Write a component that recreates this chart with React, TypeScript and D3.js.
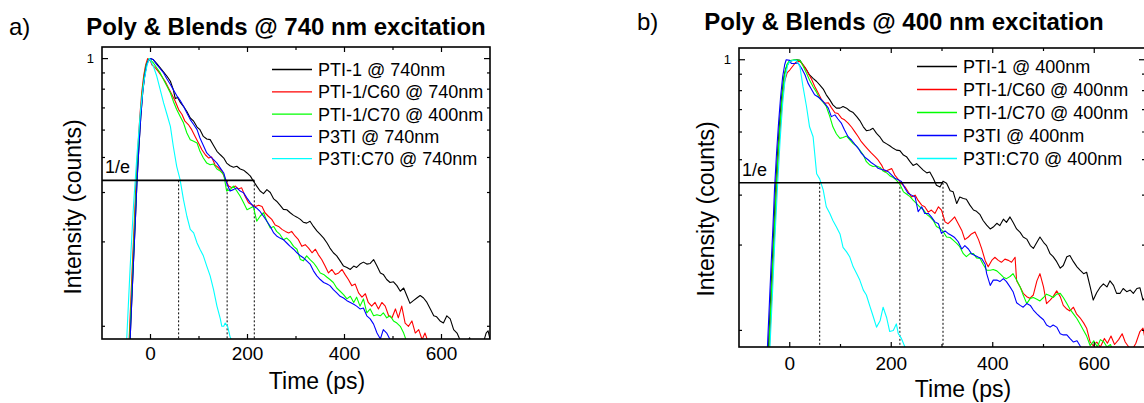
import React from "react";
import * as d3 from "d3";

// ---------- shared axis data ----------
const xDomain = [-100, 700];
const xTickValues = [0, 100, 200, 300, 400, 500, 600];
const xTickLabels = [0, 200, 400, 600];
const yTickValues = [0.111, 0.222, 0.333, 0.444, 0.556, 0.667, 0.778, 0.889, 1];
const yTickLabels = [1];
const invE = 0.368;
const colors = ["#000000", "#ff0000", "#00ff00", "#0000ff", "#00ffff"];

// ---------- panel a ----------
const titleA = "Poly & Blends @ 740 nm excitation";
const namesA = ["PTI-1 @ 740nm", "PTI-1/C60 @ 740nm", "PTI-1/C70 @ 400nm", "P3TI @ 740nm", "P3TI:C70 @ 740nm"];
const dropTimesA = [58, 158, 214];

const blackA = [[-46,0.075],[-42,0.1],[-38,0.145],[-35,0.19],[-31,0.27],[-28,0.36],[-24,0.48],[-20,0.62],[-16,0.76],[-12,0.87],[-8,0.95],[-4,0.99],[0,1],
[6,0.99],[13,0.96],[23,0.914],[34,0.865],[41,0.83],[47,0.775],[51,0.72],[56,0.726],[61,0.7],[68,0.676],[75,0.648],[82,0.614],[89,0.598],[96,0.57],[102,0.558],[109,0.528],[116,0.517],[123,0.514],[130,0.49],[137,0.467],[144,0.454],[151,0.442],[157,0.424],[164,0.415],[171,0.41],[178,0.413],[185,0.404],[192,0.4],[199,0.391],[206,0.381],[212,0.366],[219,0.351],[226,0.337],[233,0.33],[240,0.341],[247,0.333],[254,0.316],[260,0.31],[267,0.3],[274,0.29],[281,0.289],[288,0.282],[295,0.276],[302,0.272],[309,0.267],[315,0.261],[322,0.259],[329,0.263],[336,0.252],[343,0.243],[350,0.236],[357,0.229],[364,0.22],[370,0.211],[377,0.203],[384,0.198],[391,0.19],[398,0.182],[405,0.18],[412,0.177],[419,0.182],[425,0.18],[432,0.185],[439,0.188],[446,0.185],[453,0.186],[460,0.192],[467,0.182],[474,0.172],[480,0.17],[487,0.163],[494,0.159],[501,0.16],[508,0.155],[515,0.148],[522,0.152],[529,0.142],[535,0.134],[542,0.137],[549,0.14],[556,0.143],[563,0.14],[570,0.135],[577,0.128],[584,0.121],[590,0.12],[597,0.116],[604,0.114],[611,0.121],[618,0.118],[625,0.108],[632,0.105],[638,0.0995],[645,0.094],[652,0.097],[658,0.101],[662,0.096],[670,0.09],[680,0.092],[687,0.098],[692,0.105],[696,0.107],[700,0.1]];

const redA = [[-48,0.075],[-44,0.1],[-40,0.145],[-37,0.19],[-33,0.27],[-30,0.36],[-26,0.48],[-22,0.62],[-18,0.76],[-14,0.87],[-10,0.95],[-6,1],[0,0.98],
[3,0.95],[10,0.926],[16,0.9],[23,0.865],[30,0.83],[37,0.786],[44,0.744],[51,0.705],[58,0.658],[65,0.632],[71,0.598],[78,0.582],[85,0.558],[92,0.528],[99,0.5],[106,0.473],[113,0.454],[120,0.442],[126,0.446],[133,0.418],[140,0.408],[147,0.397],[154,0.372],[161,0.351],[168,0.346],[175,0.351],[181,0.343],[188,0.346],[195,0.323],[202,0.306],[209,0.301],[216,0.297],[223,0.3],[230,0.297],[236,0.282],[243,0.274],[250,0.267],[257,0.255],[264,0.252],[271,0.246],[278,0.242],[285,0.239],[291,0.242],[298,0.233],[305,0.226],[312,0.214],[319,0.217],[326,0.211],[333,0.203],[340,0.209],[346,0.2],[353,0.192],[360,0.182],[367,0.172],[374,0.177],[381,0.17],[388,0.172],[395,0.177],[401,0.17],[408,0.163],[415,0.155],[422,0.157],[429,0.146],[436,0.141],[443,0.145],[449,0.135],[456,0.131],[463,0.135],[470,0.128],[477,0.135],[484,0.131],[491,0.121],[498,0.119],[505,0.128],[511,0.119],[518,0.131],[525,0.114],[532,0.111],[539,0.116],[546,0.105],[553,0.108],[560,0.0995],[566,0.105],[573,0.097],[580,0.09],[590,0.095],[600,0.088]];

const greenA = [[-47,0.075],[-43,0.1],[-39,0.145],[-36,0.19],[-32,0.27],[-29,0.36],[-25,0.48],[-21,0.62],[-17,0.76],[-13,0.87],[-9,0.95],[-3,1],
[6,0.965],[13,0.926],[20,0.889],[27,0.841],[34,0.797],[41,0.754],[47,0.705],[54,0.658],[61,0.623],[68,0.59],[75,0.543],[82,0.514],[89,0.507],[96,0.5],[102,0.467],[109,0.442],[116,0.424],[123,0.418],[130,0.421],[137,0.404],[144,0.397],[151,0.386],[157,0.337],[164,0.341],[171,0.351],[178,0.337],[185,0.323],[192,0.306],[199,0.289],[206,0.293],[212,0.297],[219,0.263],[226,0.274],[233,0.282],[240,0.263],[247,0.249],[254,0.252],[260,0.242],[267,0.236],[274,0.226],[281,0.229],[288,0.223],[295,0.214],[302,0.209],[309,0.192],[315,0.19],[322,0.198],[329,0.192],[336,0.187],[343,0.18],[350,0.172],[357,0.17],[364,0.166],[370,0.163],[377,0.159],[384,0.152],[391,0.148],[398,0.144],[405,0.139],[412,0.142],[419,0.135],[425,0.141],[432,0.131],[439,0.139],[446,0.124],[453,0.128],[460,0.121],[467,0.122],[474,0.121],[480,0.124],[487,0.119],[494,0.121],[501,0.116],[508,0.114],[515,0.111],[522,0.105],[529,0.097],[540,0.09]];

const blueA = [[-46,0.075],[-42,0.1],[-38,0.145],[-35,0.19],[-31,0.27],[-28,0.36],[-24,0.48],[-20,0.62],[-16,0.76],[-12,0.87],[-8,0.95],[-4,0.99],[0,1],
[6,0.99],[13,0.952],[20,0.92],[27,0.889],[34,0.846],[41,0.808],[47,0.775],[54,0.738],[61,0.71],[68,0.676],[75,0.64],[82,0.606],[89,0.582],[96,0.558],[102,0.521],[109,0.49],[116,0.461],[123,0.448],[130,0.436],[137,0.424],[144,0.407],[151,0.391],[157,0.36],[164,0.337],[171,0.341],[178,0.346],[185,0.337],[192,0.332],[199,0.318],[206,0.306],[212,0.297],[219,0.293],[226,0.285],[233,0.274],[240,0.263],[247,0.252],[254,0.239],[260,0.233],[267,0.229],[274,0.226],[281,0.22],[288,0.214],[295,0.209],[302,0.203],[309,0.198],[315,0.195],[322,0.19],[329,0.185],[336,0.175],[343,0.168],[350,0.163],[357,0.159],[364,0.157],[370,0.155],[377,0.15],[384,0.146],[391,0.142],[398,0.14],[405,0.137],[412,0.135],[419,0.133],[425,0.131],[432,0.128],[439,0.129],[446,0.121],[453,0.118],[460,0.113],[467,0.105],[474,0.1],[480,0.108],[487,0.105],[494,0.0995],[505,0.092]];

const cyanA = [[-53,0.085],[-49,0.1],[-42,0.18],[-35,0.3],[-28,0.45],[-21,0.64],[-14,0.82],[-7,0.95],[-2,1],
[6,0.939],[13,0.865],[20,0.775],[27,0.695],[34,0.632],[41,0.573],[47,0.487],[54,0.413],[61,0.37],[68,0.314],[75,0.274],[82,0.246],[89,0.239],[96,0.22],[102,0.209],[109,0.198],[116,0.182],[123,0.168],[130,0.15],[137,0.131],[144,0.118],[147,0.111],[151,0.111],[154,0.114],[159,0.111],[164,0.102],[170,0.096]];

// ---------- panel b ----------
const titleB = "Poly & Blends @ 400 nm excitation";
const namesB = ["PTI-1 @ 400nm", "PTI-1/C60 @ 400nm", "PTI-1/C70 @ 400nm", "P3TI @ 400nm", "P3TI:C70 @ 400nm"];
const dropTimesB = [59, 217, 302];

const blackB = [[-46,0.075],[-42,0.097],[-38,0.14],[-35,0.185],[-31,0.26],[-28,0.35],[-24,0.47],[-20,0.6],[-16,0.74],[-12,0.86],[-8,0.93],[-3,0.97],
[0,0.985],[7,0.995],[13,1],[20,0.995],[26,0.96],[33,0.922],[39,0.884],[46,0.86],[53,0.838],[59,0.815],[66,0.788],[72,0.752],[79,0.722],[85,0.693],[92,0.675],[99,0.675],[105,0.684],[112,0.675],[118,0.661],[125,0.651],[132,0.63],[138,0.61],[145,0.58],[151,0.562],[158,0.565],[164,0.573],[171,0.55],[178,0.533],[184,0.514],[191,0.505],[197,0.497],[204,0.487],[210,0.48],[217,0.478],[224,0.461],[230,0.455],[237,0.437],[243,0.424],[250,0.43],[256,0.42],[263,0.408],[270,0.399],[276,0.402],[283,0.381],[289,0.361],[296,0.356],[302,0.373],[309,0.367],[316,0.345],[322,0.342],[329,0.311],[335,0.328],[342,0.324],[348,0.322],[355,0.307],[362,0.295],[368,0.292],[375,0.284],[381,0.271],[388,0.261],[395,0.253],[401,0.257],[408,0.265],[414,0.26],[421,0.274],[427,0.267],[434,0.279],[440,0.267],[447,0.253],[454,0.246],[460,0.237],[467,0.233],[474,0.221],[480,0.216],[487,0.227],[493,0.237],[500,0.227],[506,0.221],[513,0.207],[519,0.202],[526,0.194],[533,0.184],[539,0.188],[546,0.202],[552,0.204],[559,0.194],[566,0.186],[572,0.181],[579,0.176],[585,0.178],[592,0.158],[598,0.142],[605,0.151],[611,0.157],[618,0.162],[625,0.158],[631,0.166],[638,0.16],[644,0.15],[651,0.15],[657,0.156],[664,0.152],[671,0.154],[677,0.15],[684,0.156],[690,0.157],[696,0.142],[700,0.145]];

const redB = [[-44,0.075],[-40,0.097],[-36,0.14],[-33,0.185],[-29,0.26],[-26,0.35],[-22,0.47],[-18,0.6],[-14,0.74],[-10,0.84],[-5,0.9],[0,0.92],
[10,0.97],[16,0.995],[23,0.975],[30,0.94],[36,0.898],[43,0.854],[49,0.806],[56,0.763],[62,0.727],[69,0.702],[76,0.705],[82,0.678],[89,0.65],[95,0.646],[102,0.622],[108,0.614],[115,0.598],[122,0.578],[128,0.558],[135,0.535],[141,0.514],[148,0.497],[155,0.481],[161,0.468],[168,0.455],[174,0.443],[181,0.425],[187,0.403],[194,0.408],[201,0.413],[207,0.392],[214,0.378],[220,0.366],[227,0.356],[233,0.343],[240,0.328],[247,0.333],[253,0.319],[260,0.307],[266,0.303],[273,0.29],[279,0.295],[286,0.287],[293,0.303],[299,0.295],[306,0.268],[312,0.264],[319,0.272],[325,0.279],[332,0.264],[339,0.25],[345,0.232],[352,0.237],[358,0.243],[365,0.247],[372,0.232],[378,0.216],[385,0.196],[391,0.186],[398,0.196],[404,0.201],[411,0.196],[417,0.193],[424,0.198],[431,0.196],[437,0.193],[444,0.201],[447,0.166],[454,0.158],[460,0.15],[467,0.146],[473,0.144],[480,0.148],[487,0.166],[493,0.176],[500,0.158],[506,0.138],[513,0.142],[519,0.146],[526,0.153],[533,0.146],[539,0.136],[546,0.132],[552,0.13],[559,0.134],[565,0.127],[572,0.123],[579,0.118],[585,0.113],[592,0.101],[598,0.098],[605,0.101],[612,0.097],[620,0.104],[626,0.1],[633,0.106],[640,0.099],[648,0.103],[655,0.108],[661,0.101],[668,0.097],[675,0.095],[682,0.1],[690,0.11],[696,0.113],[700,0.104]];

const greenB = [[-45,0.075],[-41,0.097],[-37,0.14],[-34,0.185],[-30,0.26],[-27,0.35],[-23,0.47],[-19,0.6],[-15,0.74],[-11,0.87],[-6,0.96],[-2,0.985],
[3,0.995],[10,1],[20,0.995],[26,0.952],[33,0.897],[39,0.848],[46,0.803],[53,0.767],[59,0.73],[66,0.707],[72,0.684],[79,0.63],[85,0.58],[92,0.547],[99,0.528],[105,0.532],[112,0.538],[118,0.523],[125,0.506],[132,0.495],[138,0.48],[145,0.461],[151,0.437],[158,0.425],[164,0.42],[171,0.422],[178,0.417],[184,0.405],[191,0.399],[197,0.39],[204,0.384],[210,0.376],[217,0.364],[224,0.342],[230,0.336],[237,0.329],[243,0.32],[250,0.311],[256,0.303],[263,0.296],[270,0.285],[276,0.279],[283,0.271],[289,0.258],[296,0.254],[302,0.248],[309,0.237],[316,0.236],[322,0.231],[329,0.225],[335,0.219],[342,0.207],[348,0.202],[355,0.207],[362,0.207],[368,0.2],[375,0.199],[381,0.19],[388,0.181],[395,0.181],[401,0.182],[408,0.18],[414,0.176],[421,0.171],[427,0.169],[434,0.172],[440,0.176],[447,0.167],[454,0.158],[460,0.148],[467,0.138],[474,0.144],[480,0.145],[487,0.143],[493,0.141],[500,0.145],[506,0.149],[513,0.147],[519,0.145],[526,0.149],[533,0.15],[539,0.145],[546,0.138],[552,0.132],[559,0.127],[566,0.122],[572,0.117],[579,0.111],[585,0.106],[592,0.098],[599,0.102],[606,0.097],[612,0.103],[619,0.101],[625,0.097],[632,0.099],[640,0.09]];

const blueB = [[-48,0.075],[-44,0.097],[-40,0.14],[-37,0.185],[-33,0.26],[-30,0.35],[-26,0.47],[-22,0.6],[-18,0.74],[-14,0.87],[-10,0.96],[-7,1],
[0,0.995],[3,0.97],[10,0.97],[16,0.975],[23,0.935],[30,0.885],[36,0.827],[43,0.785],[49,0.752],[56,0.739],[62,0.724],[69,0.702],[76,0.675],[82,0.63],[89,0.639],[95,0.618],[102,0.596],[108,0.565],[115,0.535],[122,0.52],[128,0.504],[135,0.487],[141,0.468],[148,0.453],[155,0.443],[161,0.433],[168,0.425],[174,0.414],[181,0.41],[187,0.408],[194,0.403],[201,0.392],[207,0.382],[214,0.377],[220,0.372],[227,0.352],[233,0.338],[240,0.333],[247,0.328],[253,0.291],[260,0.303],[266,0.287],[273,0.287],[279,0.279],[286,0.268],[293,0.264],[299,0.244],[306,0.249],[312,0.244],[319,0.24],[325,0.236],[332,0.228],[339,0.215],[345,0.221],[352,0.215],[358,0.207],[365,0.204],[372,0.201],[378,0.199],[385,0.19],[388,0.176],[395,0.16],[401,0.167],[408,0.167],[414,0.165],[421,0.169],[427,0.165],[434,0.158],[440,0.152],[447,0.139],[454,0.136],[460,0.134],[467,0.138],[474,0.136],[480,0.131],[487,0.127],[493,0.124],[500,0.121],[506,0.116],[513,0.114],[519,0.116],[526,0.114],[533,0.108],[539,0.107],[546,0.107],[552,0.104],[559,0.101],[566,0.102],[572,0.098],[579,0.094],[590,0.09]];

const cyanB = [[-43,0.075],[-39,0.097],[-34,0.15],[-29,0.24],[-24,0.36],[-19,0.52],[-14,0.7],[-9,0.86],[-4,0.96],
[0,0.985],[7,0.995],[13,0.995],[20,0.946],[26,0.805],[33,0.684],[39,0.58],[46,0.535],[53,0.396],[59,0.38],[66,0.347],[72,0.303],[79,0.287],[85,0.271],[92,0.257],[99,0.243],[105,0.218],[112,0.21],[118,0.202],[125,0.186],[132,0.176],[138,0.167],[145,0.154],[151,0.148],[158,0.135],[164,0.125],[171,0.114],[178,0.12],[184,0.134],[191,0.123],[197,0.11],[204,0.111],[210,0.117],[214,0.108],[220,0.104],[227,0.097],[232,0.092]];

const seriesA = [blackA, redA, greenA, blueA, cyanA];
const seriesB = [blackB, redB, greenB, blueB, cyanB];

const FONT = "'Liberation Sans', Arial, Helvetica, sans-serif";

type Cfg = {
  id: string;
  letter: string;
  letterX: number;
  title: string;
  titleX: number;
  titleY: number;
  left: number; right: number; top: number; bottom: number;
  yDomain: number[];
  series: number[][][];
  names: string[];
  drops: number[];
  legendX: number; legendY: number; legendDy: number;
  xLabelX: number; xLabelY: number; tickLabelY: number;
  yLabelX: number; yLabelY: number;
};

const cfgA: Cfg = {
  id: "a", letter: "a)", letterX: 9, title: titleA, titleX: 286, titleY: 35,
  left: 102, right: 490, top: 47, bottom: 339, yDomain: [0.1, 1.1],
  series: seriesA, names: namesA, drops: dropTimesA,
  legendX: 272, legendY: 69.5, legendDy: 22.3,
  xLabelX: 317, xLabelY: 389, tickLabelY: 360,
  yLabelX: 81, yLabelY: 207,
};
const cfgB: Cfg = {
  id: "b", letter: "b)", letterX: 637, title: titleB, titleX: 904, titleY: 30,
  left: 739, right: 1145, top: 48, bottom: 347, yDomain: [0.097, 1.1],
  series: seriesB, names: namesB, drops: dropTimesB,
  legendX: 917, legendY: 66.5, legendDy: 23,
  xLabelX: 963, xLabelY: 397, tickLabelY: 370,
  yLabelX: 714, yLabelY: 209,
};

function Panel({ cfg }: { cfg: Cfg }) {
  const x = d3.scaleLinear().domain(xDomain).range([cfg.left, cfg.right]);
  const y = d3.scaleLog().domain(cfg.yDomain).range([cfg.bottom, cfg.top]);
  const line = d3.line<number[]>().x((d) => x(d[0])).y((d) => y(d[1]));
  const clipId = "clip-" + cfg.id;
  const lastDrop = d3.max(cfg.drops) as number;
  return (
    <g>
      <defs>
        <clipPath id={clipId}>
          <rect x={cfg.left} y={cfg.top} width={cfg.right - cfg.left} height={cfg.bottom - cfg.top} />
        </clipPath>
      </defs>
      <text x={cfg.letterX} y={cfg.titleY} fontSize={24} fontFamily={FONT} fill="#000">{cfg.letter}</text>
      <text x={cfg.titleX} y={cfg.titleY} fontSize={24} fontWeight="bold" fontFamily={FONT} textAnchor="middle" fill="#000">{cfg.title}</text>

      <g clipPath={`url(#${clipId})`}>
        {cfg.drops.map((t, i) => (
          <line key={"d" + i} x1={x(t)} x2={x(t)} y1={y(invE)} y2={cfg.bottom} stroke="#000" strokeWidth={1} strokeDasharray="2,2" />
        ))}
        {cfg.series.map((s, i) => (
          <path key={"s" + i} d={line(s) as string} fill="none" stroke={colors[i]} strokeWidth={1.1} strokeLinejoin="round" />
        ))}
        <line x1={cfg.left} x2={x(lastDrop)} y1={y(invE)} y2={y(invE)} stroke="#000" strokeWidth={1.6} />
      </g>
      <text x={cfg.left + 3} y={y(invE) - 7} fontSize={18} fontFamily={FONT} fill="#000">1/e</text>

      {/* frame */}
      <rect x={cfg.left} y={cfg.top} width={cfg.right - cfg.left} height={cfg.bottom - cfg.top} fill="none" stroke="#000" strokeWidth={1.6} />

      {/* x ticks bottom & top */}
      {xTickValues.map((t) => {
        const major = xTickLabels.includes(t);
        const len = major ? 5 : 3;
        return (
          <g key={"xt" + t}>
            <line x1={x(t)} x2={x(t)} y1={cfg.bottom} y2={cfg.bottom - len} stroke="#000" strokeWidth={1.2} />
            <line x1={x(t)} x2={x(t)} y1={cfg.top} y2={cfg.top + len} stroke="#000" strokeWidth={1.2} />
          </g>
        );
      })}
      {xTickLabels.map((t) => (
        <text key={"xl" + t} x={x(t)} y={cfg.tickLabelY} fontSize={19} fontFamily={FONT} textAnchor="middle" fill="#000">{t}</text>
      ))}

      {/* y ticks left & right */}
      {yTickValues.map((v) => {
        const major = yTickLabels.includes(v);
        const len = major ? 6 : 3;
        return (
          <g key={"yt" + v}>
            <line x1={cfg.left} x2={cfg.left + len} y1={y(v)} y2={y(v)} stroke="#000" strokeWidth={1.2} />
            <line x1={cfg.right} x2={cfg.right - len} y1={y(v)} y2={y(v)} stroke="#000" strokeWidth={1.2} />
          </g>
        );
      })}
      {yTickLabels.map((v) => (
        <text key={"yl" + v} x={cfg.left - 8} y={y(v) + 4.5} fontSize={13} fontFamily={FONT} textAnchor="end" fill="#000">{v}</text>
      ))}

      {/* axis titles */}
      <text x={cfg.xLabelX} y={cfg.xLabelY} fontSize={23} fontFamily={FONT} textAnchor="middle" fill="#000">Time (ps)</text>
      <text transform={`translate(${cfg.yLabelX},${cfg.yLabelY}) rotate(-90)`} fontSize={23} fontFamily={FONT} textAnchor="middle" fill="#000">Intensity (counts)</text>

      {/* legend */}
      {cfg.names.map((n, i) => {
        const ly = cfg.legendY + i * cfg.legendDy;
        return (
          <g key={"lg" + i}>
            <line x1={cfg.legendX} x2={cfg.legendX + 40} y1={ly} y2={ly} stroke={colors[i]} strokeWidth={1.3} />
            <text x={cfg.legendX + 46} y={ly + 6.5} fontSize={18} fontFamily={FONT} fill="#000">{n}</text>
          </g>
        );
      })}
    </g>
  );
}

export default function App() {
  return (
    <svg width={1144} height={403} style={{ position: "absolute", left: 0, top: 0, background: "#fff" }}>
      <rect x={0} y={0} width={1144} height={403} fill="#fff" />
      <Panel cfg={cfgA} />
      <Panel cfg={cfgB} />
    </svg>
  );
}
